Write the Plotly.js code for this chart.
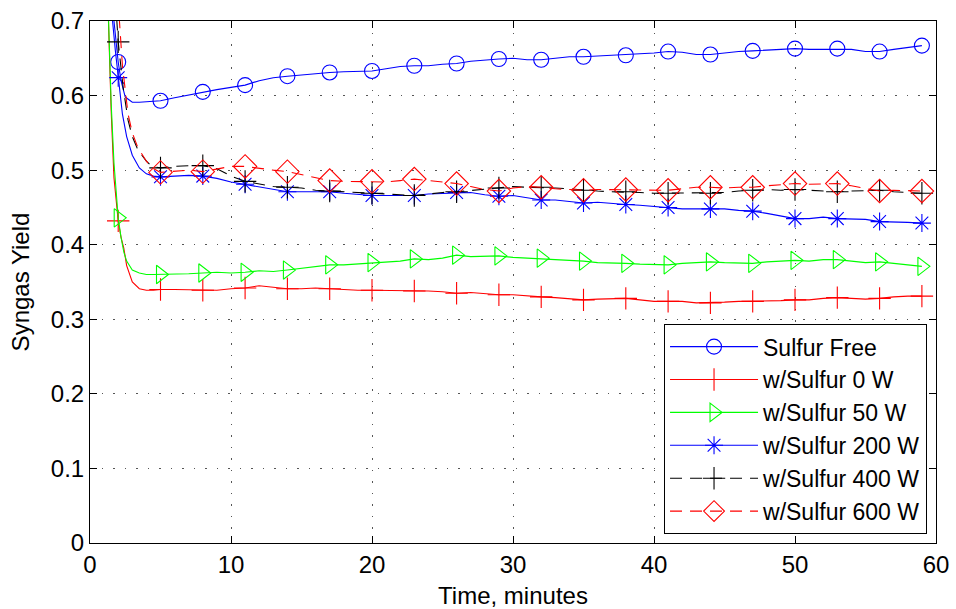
<!DOCTYPE html>
<html>
<head>
<meta charset="utf-8">
<script src="https://cdn.plot.ly/plotly-3.0.1.min.js"></script>
<style>html,body{margin:0;padding:0;background:#fff;}#chart{width:956px;height:609px;}</style>
</head>
<body>
<div id="chart"></div>
<script>
// ---- data (time in minutes, syngas yield) ----
var seriesNames = ["Sulfur Free", "w/Sulfur 0 W", "w/Sulfur 50 W", "w/Sulfur 200 W", "w/Sulfur 400 W", "w/Sulfur 600 W"];

var plateauTime = [5,6,7,8,9,10,11,12,13,14,15,16,17,18,19,20,21,22,23,24,25,26,27,28,29,30,31,32,33,34,35,36,37,38,39,40,41,42,43,44,45,46,47,48,49,50,51,52,53,54,55,56,57,58,59];

var freeEarlyT = [1.5,1.7,2,2.2,2.5,3,3.5,4,4.5];
var freeEarlyY = [0.78,0.70,0.645,0.62,0.598,0.591,0.591,0.592,0.592];
var freeY = [0.593,0.597,0.601,0.605,0.608,0.611,0.614,0.620,0.624,0.626,0.628,0.629,0.631,0.632,0.632,0.633,0.636,0.639,0.640,0.640,0.642,0.643,0.646,0.648,0.649,0.650,0.648,0.648,0.650,0.652,0.652,0.653,0.654,0.654,0.656,0.657,0.659,0.658,0.655,0.655,0.657,0.659,0.660,0.661,0.663,0.663,0.662,0.662,0.663,0.662,0.659,0.659,0.662,0.665,0.667];

var s0EarlyT = [1.15,1.3,1.5,1.7,2,2.2,2.4,2.6,3,3.5,4,4.5];
var s0EarlyY = [0.80,0.70,0.58,0.49,0.432,0.41,0.395,0.372,0.350,0.341,0.339,0.339];
var s0Y = [0.340,0.340,0.340,0.339,0.339,0.341,0.342,0.345,0.343,0.341,0.341,0.342,0.341,0.340,0.339,0.339,0.339,0.338,0.338,0.338,0.337,0.335,0.336,0.334,0.333,0.333,0.331,0.330,0.329,0.328,0.326,0.327,0.328,0.328,0.326,0.324,0.324,0.324,0.322,0.322,0.323,0.324,0.324,0.325,0.325,0.326,0.326,0.328,0.329,0.328,0.327,0.328,0.330,0.331,0.331];

var s50EarlyT = [1.15,1.3,1.5,1.7,2,2.2,2.4,2.6,3,3.5,4,4.5];
var s50EarlyY = [0.80,0.70,0.59,0.51,0.436,0.41,0.39,0.378,0.366,0.362,0.360,0.360];
var s50Y = [0.360,0.361,0.361,0.362,0.363,0.362,0.363,0.365,0.364,0.366,0.368,0.370,0.373,0.373,0.374,0.376,0.377,0.378,0.381,0.380,0.382,0.386,0.384,0.384,0.385,0.383,0.382,0.382,0.380,0.379,0.378,0.376,0.376,0.375,0.374,0.373,0.373,0.375,0.376,0.377,0.376,0.375,0.375,0.377,0.378,0.379,0.378,0.380,0.380,0.378,0.376,0.377,0.375,0.373,0.371];

var s200EarlyT = [1.5,1.6,1.8,2,2.3,2.6,3,3.5,4,4.5];
var s200EarlyY = [0.76,0.70,0.66,0.624,0.575,0.545,0.520,0.503,0.495,0.492];
var s200Y = [0.491,0.492,0.493,0.492,0.489,0.484,0.481,0.478,0.474,0.471,0.471,0.471,0.471,0.469,0.467,0.466,0.466,0.466,0.466,0.468,0.469,0.470,0.470,0.467,0.465,0.466,0.463,0.460,0.460,0.458,0.456,0.457,0.455,0.454,0.453,0.451,0.450,0.448,0.448,0.448,0.448,0.446,0.445,0.442,0.438,0.435,0.435,0.437,0.435,0.435,0.434,0.431,0.431,0.430,0.429];

var s400EarlyT = [1.8,2,2.35,2.7,3,3.4,4,4.4];
var s400EarlyY = [0.73,0.672,0.611,0.567,0.545,0.527,0.512,0.505];
var s400Y = [0.503,0.505,0.506,0.506,0.502,0.492,0.485,0.481,0.478,0.477,0.476,0.473,0.472,0.471,0.470,0.469,0.468,0.467,0.466,0.468,0.470,0.471,0.473,0.475,0.476,0.478,0.477,0.477,0.476,0.475,0.473,0.472,0.471,0.471,0.470,0.469,0.469,0.470,0.469,0.469,0.470,0.472,0.473,0.474,0.473,0.474,0.473,0.472,0.471,0.472,0.473,0.473,0.471,0.470,0.469];

var s600EarlyT = [1.9,2,2.3,2.7,3,3.4,4,4.4];
var s600EarlyY = [0.76,0.725,0.64,0.575,0.55,0.530,0.512,0.503];
var s600Y = [0.497,0.498,0.500,0.498,0.502,0.505,0.505,0.502,0.500,0.498,0.494,0.490,0.486,0.485,0.485,0.485,0.484,0.486,0.488,0.486,0.484,0.482,0.478,0.474,0.472,0.476,0.478,0.477,0.475,0.474,0.473,0.474,0.474,0.474,0.473,0.473,0.473,0.475,0.477,0.477,0.476,0.477,0.477,0.479,0.481,0.482,0.481,0.481,0.482,0.479,0.475,0.472,0.473,0.472,0.472];

var xTickVals = [0,10,20,30,40,50,60];
var yTickVals = [0,0.1,0.2,0.3,0.4,0.5,0.6,0.7];
var yTickText = ["0","0.1","0.2","0.3","0.4","0.5","0.6","0.7"];

// ---- styles ----
var styles = [
  {color:"#0000ff", symbol:"circle-open",         size:15, dash:"solid"},
  {color:"#ff0000", symbol:"cross-thin-open",     size:16, dash:"solid"},
  {color:"#00ff00", symbol:"triangle-right-open", size:16, dash:"solid"},
  {color:"#0000ff", symbol:"asterisk-open",       size:15, dash:"solid"},
  {color:"#000000", symbol:"cross-thin-open",     size:16, dash:"12px,8px"},
  {color:"#ff0000", symbol:"diamond-open",        size:18, dash:"12px,8px"}
];

var xs = [freeEarlyT, s0EarlyT, s50EarlyT, s200EarlyT, s400EarlyT, s600EarlyT].map(function(e){return e.concat(plateauTime);});
var ys = [freeEarlyY.concat(freeY), s0EarlyY.concat(s0Y), s50EarlyY.concat(s50Y), s200EarlyY.concat(s200Y), s400EarlyY.concat(s400Y), s600EarlyY.concat(s600Y)];

var traces = seriesNames.map(function(name, i){
  var st = styles[i];
  // markers every 3 minutes starting at t = 2 (first point lies above the axis and is clipped)
  var colors = xs[i].map(function(t, k){
    var isMark = Math.abs(t - Math.round(t)) < 1e-9 && (Math.round(t) - 2) % 3 === 0;
    return (isMark || k === 0) ? st.color : "rgba(0,0,0,0)";
  });
  return {
    type: "scatter",
    mode: "lines+markers",
    name: name,
    x: xs[i],
    y: ys[i],
    cliponaxis: true,
    line: {color: st.color, width: 1.1, dash: st.dash},
    marker: {symbol: st.symbol, size: st.size, color: colors, line: {width: 1.1}}
  };
});

var fontFam = "Liberation Sans, Arial, Helvetica, sans-serif";
var layout = {
  width: 956, height: 609,
  margin: {l: 90, r: 20, t: 21, b: 66},
  paper_bgcolor: "#fff", plot_bgcolor: "#fff",
  font: {family: fontFam, size: 24, color: "#000"},
  showlegend: true,
  legend: {
    x: 0.9894, y: 0.017, xanchor: "right", yanchor: "bottom",
    bgcolor: "#fff", bordercolor: "#000", borderwidth: 1,
    font: {family: fontFam, size: 23, color: "#000"},
    itemwidth: 88, tracegroupgap: 0
  },
  xaxis: {
    range: [0, 60], tickvals: xTickVals, ticktext: xTickVals.map(String),
    ticks: "inside", ticklen: 7, tickwidth: 1, tickcolor: "#000",
    showline: true, linecolor: "#000", linewidth: 1, mirror: "ticks",
    showgrid: true, gridcolor: "#555", gridwidth: 1, griddash: "1.5px,10px",
    zeroline: false,
    tickfont: {family: fontFam, size: 24, color: "#000"},
    title: {text: "Time, minutes", font: {family: fontFam, size: 24, color: "#000"}, standoff: 10}
  },
  yaxis: {
    range: [0, 0.7], tickvals: yTickVals, ticktext: yTickText,
    ticks: "inside", ticklen: 7, tickwidth: 1, tickcolor: "#000",
    showline: true, linecolor: "#000", linewidth: 1, mirror: "ticks",
    showgrid: true, gridcolor: "#555", gridwidth: 1, griddash: "1.5px,10px",
    zeroline: false,
    tickfont: {family: fontFam, size: 24, color: "#000"},
    title: {text: "Syngas Yield", font: {family: fontFam, size: 24, color: "#000"}, standoff: 14}
  }
};

Plotly.newPlot("chart", traces, layout, {staticPlot: true, displayModeBar: false});
</script>
</body>
</html>
